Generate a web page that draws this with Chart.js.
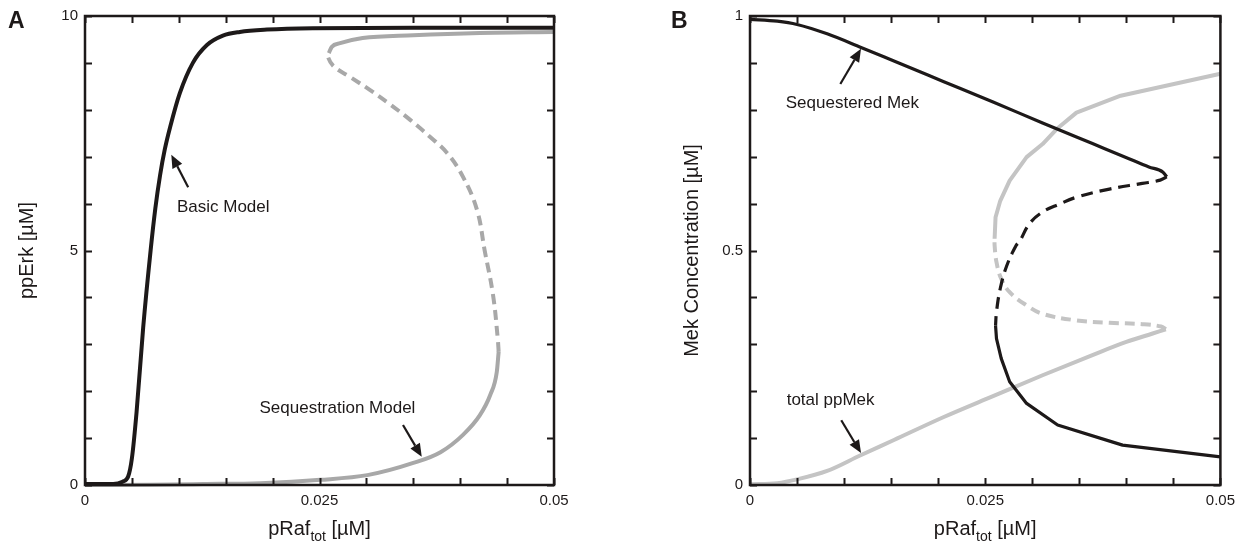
<!DOCTYPE html>
<html>
<head>
<meta charset="utf-8">
<script src="https://cdn.jsdelivr.net/npm/chart.js@4.4.1/dist/chart.umd.min.js"></script>
<style>
  html, body { margin: 0; padding: 0; background: #fff; }
  #wrap { position: relative; width: 1242px; height: 545px; }
  .panel { position: absolute; top: 0; width: 621px; height: 545px; }
</style>
</head>
<body>
<div id="wrap">
  <div class="panel" style="left:0"><canvas id="chartA" width="621" height="545"></canvas></div>
  <div class="panel" style="left:621px"><canvas id="chartB" width="621" height="545"></canvas></div>
</div>
<script>
// ---- panel A: ppErk vs pRaf_tot ----
var basicX = [0, 0.0030, 0.0040, 0.0046, 0.0050, 0.0055, 0.0062, 0.0070, 0.0075, 0.0080, 0.0085, 0.0091, 0.0101, 0.0115, 0.0130, 0.0147, 0.0165, 0.0194, 0.0243, 0.0350, 0.0500];
var basicY = [0.02, 0.02, 0.07, 0.18, 0.57, 1.56, 3.35, 5.01, 5.90, 6.60, 7.15, 7.65, 8.35, 9.00, 9.38, 9.58, 9.66, 9.71, 9.74, 9.75, 9.75];

var seqLowX = [0, 0.0070, 0.0126, 0.0187, 0.0251, 0.0301, 0.0350, 0.0379, 0.0403, 0.0421, 0.0432, 0.0439, 0.0441];
var seqLowY = [0.0, 0.005, 0.02, 0.04, 0.11, 0.21, 0.47, 0.70, 1.07, 1.49, 1.92, 2.41, 2.84];
var seqMidX = [0.0441, 0.0440, 0.0435, 0.0426, 0.0418, 0.0403, 0.0386, 0.0368, 0.0347, 0.0325, 0.0304, 0.0281, 0.0265, 0.0259, 0.0260];
var seqMidY = [2.84, 3.13, 4.05, 5.01, 5.86, 6.57, 7.08, 7.42, 7.78, 8.12, 8.42, 8.72, 8.93, 9.13, 9.21];
var seqHighX = [0.0260, 0.0263, 0.0272, 0.0296, 0.0350, 0.0421, 0.0500];
var seqHighY = [9.21, 9.34, 9.42, 9.53, 9.59, 9.64, 9.66];

// ---- panel B: Mek concentration vs pRaf_tot ----
var sqHighX = [0, 0.0029, 0.0050, 0.0082, 0.0118, 0.0153, 0.0206, 0.0259, 0.0311, 0.0364, 0.0399, 0.0424, 0.0439, 0.0443];
var sqHighY = [0.993, 0.989, 0.982, 0.962, 0.933, 0.904, 0.860, 0.816, 0.772, 0.728, 0.699, 0.678, 0.667, 0.657];
var sqMidX = [0.0443, 0.0436, 0.0417, 0.0382, 0.0346, 0.0329, 0.0311, 0.0297, 0.0287, 0.0283, 0.0273, 0.0266, 0.0262, 0.0261];
var sqMidY = [0.657, 0.650, 0.643, 0.631, 0.613, 0.599, 0.582, 0.557, 0.521, 0.511, 0.468, 0.419, 0.369, 0.340];
var sqLowX = [0.0261, 0.0262, 0.0267, 0.0276, 0.0294, 0.0327, 0.0396, 0.0500];
var sqLowY = [0.340, 0.312, 0.270, 0.220, 0.174, 0.128, 0.085, 0.060];

var ppLowX = [0, 0.0029, 0.0050, 0.0082, 0.0117, 0.0153, 0.0206, 0.0259, 0.0311, 0.0364, 0.0400, 0.0428, 0.0442];
var ppLowY = [0.0015, 0.004, 0.012, 0.030, 0.063, 0.096, 0.145, 0.190, 0.234, 0.277, 0.305, 0.323, 0.332];
var ppMidX = [0.0442, 0.0437, 0.0417, 0.0382, 0.0347, 0.0311, 0.0294, 0.0276, 0.0267, 0.0262, 0.0260, 0.0260];
var ppMidY = [0.332, 0.338, 0.343, 0.346, 0.351, 0.365, 0.383, 0.411, 0.440, 0.475, 0.511, 0.525];
var ppHighX = [0.0260, 0.0261, 0.0266, 0.0276, 0.0294, 0.0311, 0.0326, 0.0347, 0.0394, 0.0500];
var ppHighY = [0.525, 0.571, 0.606, 0.649, 0.699, 0.727, 0.759, 0.794, 0.830, 0.877];

// ticks
var xLabelled = [0, 0.025, 0.05];
var yLabelledA = [0, 5, 10];
var yLabelledB = [0, 0.5, 1];

// annotations (data coords): text anchor, arrow tail, arrow tip
var notesA = [
  { text: 'Basic Model', at: [0.0098, 5.93], from: [0.0110, 6.35], to: [0.0092, 7.04] },
  { text: 'Sequestration Model', at: [0.0186, 1.64], from: [0.0339, 1.28], to: [0.0359, 0.60] }
];
var notesB = [
  { text: 'Sequestered Mek', at: [0.0038, 0.813], from: [0.0096, 0.855], to: [0.0118, 0.930] },
  { text: 'total ppMek', at: [0.0039, 0.181], from: [0.0097, 0.138], to: [0.0118, 0.068] }
];

var INK = '#1d1919';
var FONT = "'Liberation Sans', Arial, sans-serif";

function pts(xs, ys) {
  return xs.map(function (v, i) { return { x: v, y: ys[i] }; });
}

function isIn(v, list) {
  for (var i = 0; i < list.length; i++) if (Math.abs(v - list[i]) < 1e-9) return true;
  return false;
}

// shape: 'mono' = smooth monotone, 'curve' = tension spline, otherwise straight segments
function line(data, color, width, dash, shape) {
  var ds = {
    data: data, showLine: true, borderColor: color, borderWidth: width,
    borderDash: dash || [], pointRadius: 0, tension: 0,
    borderCapStyle: 'butt', borderJoinStyle: 'round', clip: 6
  };
  if (shape === 'mono') { ds.cubicInterpolationMode = 'monotone'; ds.tension = 0.4; }
  if (shape === 'curve') ds.tension = 0.4;
  return ds;
}

// frame, inward ticks on all sides, titles, notes
var decor = {
  id: 'decor',
  afterDatasetsDraw: function (chart, args, opts) {
    var ctx = chart.ctx, a = chart.chartArea, x = chart.scales.x, y = chart.scales.y;
    ctx.save();
    ctx.strokeStyle = INK;
    ctx.lineWidth = 2;
    ctx.beginPath();
    x.ticks.forEach(function (t) {
      var px = Math.round(x.getPixelForValue(t.value)) + 0.5;
      ctx.moveTo(px, a.bottom); ctx.lineTo(px, a.bottom - 7);
      ctx.moveTo(px, a.top); ctx.lineTo(px, a.top + 7);
    });
    y.ticks.forEach(function (t) {
      var py = Math.round(y.getPixelForValue(t.value)) + 0.5;
      ctx.moveTo(a.left, py); ctx.lineTo(a.left + 7, py);
      ctx.moveTo(a.right, py); ctx.lineTo(a.right - 7, py);
    });
    ctx.stroke();
    ctx.lineWidth = 2.5;
    ctx.strokeRect(a.left, a.top, a.right - a.left, a.bottom - a.top);

    // notes
    ctx.fillStyle = INK;
    ctx.font = '17px ' + FONT;
    ctx.textBaseline = 'middle';
    ctx.textAlign = 'left';
    opts.notes.forEach(function (n) {
      ctx.fillText(n.text, x.getPixelForValue(n.at[0]), y.getPixelForValue(n.at[1]));
      var x0 = x.getPixelForValue(n.from[0]), y0 = y.getPixelForValue(n.from[1]);
      var x1 = x.getPixelForValue(n.to[0]), y1 = y.getPixelForValue(n.to[1]);
      var ang = Math.atan2(y1 - y0, x1 - x0), hl = 13, hw = 5.5;
      var bx = x1 - hl * Math.cos(ang), by = y1 - hl * Math.sin(ang);
      ctx.lineWidth = 2.2;
      ctx.beginPath(); ctx.moveTo(x0, y0); ctx.lineTo(bx, by); ctx.stroke();
      ctx.beginPath();
      ctx.moveTo(x1, y1);
      ctx.lineTo(bx + hw * Math.sin(ang), by - hw * Math.cos(ang));
      ctx.lineTo(bx - hw * Math.sin(ang), by + hw * Math.cos(ang));
      ctx.closePath(); ctx.fill();
    });

    // x title with subscript
    ctx.textBaseline = 'alphabetic';
    ctx.textAlign = 'left';
    var big = '20px ' + FONT, small = '14px ' + FONT;
    ctx.font = big; var w1 = ctx.measureText('pRaf').width, w3 = ctx.measureText(' [\u00b5M]').width;
    ctx.font = small; var w2 = ctx.measureText('tot').width;
    var sx = (a.left + a.right) / 2 - (w1 + w2 + w3) / 2, by0 = a.bottom + 50;
    ctx.font = big; ctx.fillText('pRaf', sx, by0);
    ctx.font = small; ctx.fillText('tot', sx + w1, by0 + 6);
    ctx.font = big; ctx.fillText(' [\u00b5M]', sx + w1 + w2, by0);

    // y title
    ctx.save();
    ctx.translate(a.left - 58, (a.top + a.bottom) / 2);
    ctx.rotate(-Math.PI / 2);
    ctx.textAlign = 'center';
    ctx.textBaseline = 'middle';
    ctx.font = big;
    ctx.fillText(opts.yTitle, 0, 0);
    ctx.restore();

    // panel letter
    ctx.font = 'bold 23px ' + FONT;
    ctx.textAlign = 'left';
    ctx.fillText(opts.letter, opts.letterX, 28);
    ctx.restore();
  }
};

function makeChart(id, datasets, yMax, yStep, yLab, yWidth, rightPad, extra) {
  return new Chart(document.getElementById(id), {
    type: 'scatter',
    data: { datasets: datasets },
    options: {
      responsive: false, animation: false, devicePixelRatio: 1,
      layout: { padding: { top: 15, right: rightPad, left: 0, bottom: 0 } },
      plugins: { legend: { display: false }, tooltip: { enabled: false }, decor: extra },
      scales: {
        x: {
          type: 'linear', min: 0, max: 0.05,
          grid: { display: false, drawTicks: false }, border: { display: false },
          afterFit: function (s) { s.height = 60; },
          ticks: {
            stepSize: 0.005, autoSkip: false, maxRotation: 0, padding: 7, color: INK,
            font: { family: FONT, size: 15 },
            callback: function (v) { return isIn(v, xLabelled) ? String(+v.toFixed(3)) : ''; }
          }
        },
        y: {
          type: 'linear', min: 0, max: yMax,
          grid: { display: false, drawTicks: false }, border: { display: false },
          afterFit: function (s) { s.width = yWidth; },
          ticks: {
            stepSize: yStep, autoSkip: false, padding: 7, color: INK,
            font: { family: FONT, size: 15 },
            callback: function (v) { return isIn(v, yLab) ? String(+v.toFixed(2)) : ''; }
          }
        }
      }
    },
    plugins: [decor]
  });
}

var BLACK = '#1d1919', GREY_A = '#a8a8a8', GREY_B = '#c4c4c4';

makeChart('chartA', [
  line(pts(basicX, basicY), BLACK, 4, null, 'mono'),
  line(pts(seqHighX, seqHighY), GREY_A, 4, null, 'mono'),
  line(pts(seqMidX, seqMidY), GREY_A, 4, [10, 6], 'curve'),
  line(pts(seqLowX, seqLowY), GREY_A, 4, null, 'mono')
], 10, 1, yLabelledA, 85, 67, { notes: notesA, yTitle: 'ppErk [\u00b5M]', letter: 'A', letterX: 8 });

makeChart('chartB', [
  line(pts(sqHighX, sqHighY), BLACK, 3.2, null, 'mono'),
  line(pts(sqMidX, sqMidY), BLACK, 3.2, [12, 7], 'curve'),
  line(pts(sqLowX, sqLowY), BLACK, 3.2, null, null),
  line(pts(ppHighX, ppHighY), GREY_B, 4, null, null),
  line(pts(ppMidX, ppMidY), GREY_B, 4, [10, 6], 'curve'),
  line(pts(ppLowX, ppLowY), GREY_B, 4, null, 'mono')
], 1, 0.1, yLabelledB, 129, 20, { notes: notesB, yTitle: 'Mek Concentration [\u00b5M]', letter: 'B', letterX: 50 });
</script>
</body>
</html>
